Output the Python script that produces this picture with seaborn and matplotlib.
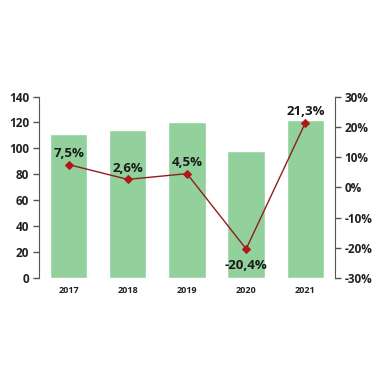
import matplotlib
matplotlib.use("Agg")
import matplotlib.pyplot as plt
import pandas as pd
import seaborn as sns

# data
years = ["2017", "2018", "2019", "2020", "2021"]
volume = [111, 114, 120, 98, 122]
growth = [7.5, 2.6, 4.5, -20.4, 21.3]
growth_labels = ["7,5%", "2,6%", "4,5%", "-20,4%", "21,3%"]

df = pd.DataFrame({"year": years, "volume": volume, "growth": growth})

sns.set_style("white")
plt.rcParams["font.family"] = ["Open Sans", "DejaVu Sans"]

fig = plt.figure(figsize=(3.77, 3.78), dpi=100)
ax = fig.add_axes([0.1034, 0.2646, 0.785, 0.48])

# bars
sns.barplot(data=df, x="year", y="volume", color="#92D09C", saturation=1,
            width=0.63, ax=ax)
ax.set_ylim(0, 140)
ax.set_xlim(-0.5, 4.5)
ax.set_yticks(range(0, 141, 20))
ax.set_xlabel("")
ax.set_ylabel("")

# growth line on right axis
ax2 = ax.twinx()
sns.lineplot(x=range(len(years)), y=df["growth"], color="#8E1F1F", lw=1,
             marker="D", markersize=4, markerfacecolor="#B01818",
             markeredgecolor="#B01818", ax=ax2)
ax2.set_ylim(-30, 30)
ax2.set_yticks(range(-30, 31, 10))
ax2.set_yticklabels([f"{v}%" for v in range(-30, 31, 10)])
ax2.set_ylabel("")

for i, (g, lab) in enumerate(zip(growth, growth_labels)):
    off = -12 if g < -10 else 8
    ax2.annotate(lab, (i, g), xytext=(0, off), textcoords="offset points",
                 ha="center", va="center", fontsize=9.5, fontweight="bold",
                 color="#1A1A1A")

# styling
for a in (ax, ax2):
    for s in ("top", "bottom"):
        a.spines[s].set_visible(False)
    a.spines["left"].set_color("#555555")
    a.spines["right"].set_color("#555555")
ax2.spines["left"].set_visible(False)
ax.spines["right"].set_visible(False)

ax.tick_params(axis="y", direction="out", length=4, width=1,
               color="#555555", labelsize=8.5, labelcolor="#222222", pad=3, left=True)
ax2.tick_params(axis="y", direction="out", length=4, width=1,
                color="#555555", labelsize=8.5, labelcolor="#222222", pad=3, right=True)
ax.tick_params(axis="x", length=0, labelsize=6.5, labelcolor="#222222", pad=6)
for t in ax.get_yticklabels() + ax2.get_yticklabels() + ax.get_xticklabels():
    t.set_fontweight("bold")

fig.savefig("out.png", dpi=100, facecolor="white")
